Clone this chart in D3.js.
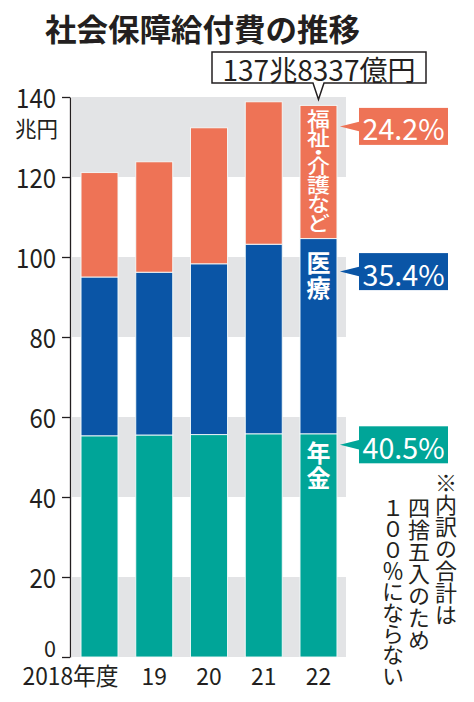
<!DOCTYPE html>
<html>
<head>
<meta charset="utf-8">
<script src="https://cdn.jsdelivr.net/npm/d3@7"></script>
<style>
  html, body { margin: 0; padding: 0; background: #fff; }
  svg { display: block; }
  text { font-family: 'Noto Sans CJK JP', 'Noto Sans', sans-serif; }
  .vert { writing-mode: vertical-rl; }
</style>
</head>
<body>
<svg id="chart" width="474" height="702"></svg>
<script>
// ---- data ----
const years = ["2018", "19", "20", "21", "22"];
const pension = [55.3, 55.5, 55.6, 55.8, 55.8];   // 年金
const medical = [39.7, 40.7, 42.7, 47.4, 48.8];   // 医療
const welfare = [26.1, 27.6, 34.0, 35.6, 33.3];   // 福祉・介護など
const seriesNames = ["年金", "医療", "福祉・介護など"];
const shares = ["40.5%", "35.4%", "24.2%"];
const yTicks = [0, 20, 40, 60, 80, 100, 120, 140];
const totalLabel = "137兆8337億円";
const title = "社会保障給付費の推移";
const unitLabel = "兆円";
const noteColumns = ["※内訳の合計は", "四捨五入のため", "１００％にならない"];

const colors = { pension: "#00a598", medical: "#0a55a6", welfare: "#ee7356" };
const ink = "#231f20";

const svg = d3.select("#chart");

const x = d3.scaleBand().domain(years).range([72, 346]).paddingInner(0.325).paddingOuter(0.165);
const y = d3.scaleLinear().domain([0, 140]).range([657, 97]);

// title
svg.append("text").attr("x", 45).attr("y", 27).attr("dominant-baseline", "central")
  .attr("font-size", 31).attr("font-weight", 700).attr("fill", ink)
  .attr("textLength", 315).attr("lengthAdjust", "spacingAndGlyphs").text(title);

// gray bands
const bands = d3.range(0, 140, 40);
svg.append("g").selectAll("rect").data(bands).join("rect")
  .attr("x", 72).attr("width", 274)
  .attr("y", d => y(d + 20)).attr("height", d => y(d) - y(d + 20))
  .attr("fill", "#e3e4e6");

// stacked bars
const rows = years.map((yr, i) => ({ yr, pension: pension[i], medical: medical[i], welfare: welfare[i] }));
const stack = d3.stack().keys(["pension", "medical", "welfare"])(rows);
svg.append("g").selectAll("g").data(stack).join("g")
  .attr("fill", d => colors[d.key])
  .selectAll("rect").data(d => d).join("rect")
  .attr("x", d => x(d.data.yr)).attr("width", x.bandwidth())
  .attr("y", d => y(d[1])).attr("height", d => y(d[0]) - y(d[1]))
  .attr("stroke", "#f4fbfb").attr("stroke-width", 0.9);

// y axis
const yAxis = svg.append("g").attr("transform", "translate(70,0)")
  .call(d3.axisLeft(y).tickValues(yTicks).tickSize(8).tickPadding(6).tickSizeOuter(0));
yAxis.select(".domain").attr("stroke", ink).attr("stroke-width", 1.3);
yAxis.selectAll(".tick line").attr("stroke", ink).attr("stroke-width", 1.3);
yAxis.selectAll(".tick text")
  .attr("font-size", d => d === 0 ? 22 : 26).attr("fill", ink)
  .attr("font-family", "'Noto Sans CJK JP', sans-serif")
  .attr("dy", d => d === 0 ? "-0.02em" : "0.42em")
  .attr("textLength", d => d === 0 ? 12 : String(d).length * 13.3)
  .attr("lengthAdjust", "spacingAndGlyphs");
// unit
svg.append("text").attr("x", 15).attr("y", 127).attr("dominant-baseline", "central")
  .attr("font-size", 22).attr("fill", ink)
  .attr("textLength", 43).attr("lengthAdjust", "spacingAndGlyphs").text(unitLabel);

// x labels
svg.append("g").selectAll("text").data(years).join("text")
  .attr("x", (d, i) => i === 0 ? x(d) + x.bandwidth() / 2 + 19 : x(d) + x.bandwidth() / 2)
  .attr("y", 685)
  .attr("text-anchor", (d, i) => i === 0 ? "end" : "middle")
  .attr("font-size", 24).attr("fill", ink)
  .attr("textLength", (d, i) => i === 0 ? 96 : d.length * 12.7)
  .attr("lengthAdjust", "spacingAndGlyphs")
  .text((d, i) => i === 0 ? d + "年度" : d);

// total callout
const last = rows[rows.length - 1];
const lastYr = years[years.length - 1];
const cx5 = x(lastYr) + x.bandwidth() / 2;
const top5 = y(last.pension + last.medical + last.welfare);
const bx0 = 212, bx1 = 426, by0 = 52, by1 = 83;
svg.append("path")
  .attr("d", `M${bx0},${by0}H${bx1}V${by1}H${cx5 + 5.5}L${cx5},${top5 - 6}L${cx5 - 5.5},${by1}H${bx0}Z`)
  .attr("fill", "#fff").attr("stroke", ink).attr("stroke-width", 1.5);
svg.append("text").attr("x", (bx0 + bx1) / 2).attr("y", (by0 + by1) / 2 + 1)
  .attr("text-anchor", "middle").attr("dominant-baseline", "central")
  .attr("font-size", 28).attr("fill", ink)
  .attr("textLength", 193).attr("lengthAdjust", "spacingAndGlyphs").text(totalLabel);

// share callouts (right side)
const xRight = x(lastYr) + x.bandwidth();
const calloutY = [y(55.8) + 11, y(55.8 + 48.8) + 33, top5 + 21];
const calloutColors = [colors.pension, colors.medical, colors.welfare];
shares.forEach((s, i) => {
  const cy = calloutY[i];
  const g = svg.append("g");
  g.append("rect").attr("x", 359).attr("y", cy - 18.5).attr("width", 89).attr("height", 37)
    .attr("fill", calloutColors[i]);
  g.append("path").attr("d", `M${xRight + 3},${cy}L360,${cy - 5}L360,${cy + 5}Z`).attr("fill", calloutColors[i]);
  g.append("text").attr("x", 403.5).attr("y", cy + 1).attr("text-anchor", "middle")
    .attr("dominant-baseline", "central").attr("font-size", 29).attr("fill", "#fff")
    .attr("textLength", 82).attr("lengthAdjust", "spacingAndGlyphs").text(s);
});

// vertical text helper (one text element per column)
function vText(str, cx, topY, size, spacing, opts) {
  const o = Object.assign({ fill: ink, weight: 400, sx: 1 }, opts || {});
  const t = svg.append("text").attr("class", "vert")
    .attr("transform", `translate(${cx},${topY}) scale(${o.sx},1)`)
    .attr("x", 0).attr("y", 0)
    .attr("font-size", size).attr("font-weight", o.weight)
    .attr("letter-spacing", spacing).attr("fill", o.fill);
  if (o.spacings) {
    Array.from(str).forEach((c, i) => {
      t.append("tspan").attr("letter-spacing", o.spacings[i]).text(c);
    });
  } else {
    t.text(str);
  }
  return t;
}

// labels inside last bar
vText(seriesNames[2], cx5, top5 + 4, 20, -1,
  { fill: "#fff", weight: 500, sx: 1.15, spacings: [-1, -6, -6, -1, -1, -1, 0] });
vText(seriesNames[1], cx5, y(55.8 + 48.8) + 12, 24, 1, { fill: "#fff", weight: 700 });
vText(seriesNames[0], cx5, y(55.8) + 7, 24, 1, { fill: "#fff", weight: 700 });

// note (vertical, right-to-left columns)
vText(noteColumns[0], 446, 472, 22, -0.1);
vText(noteColumns[1], 419, 497, 22, -0.1);
vText(noteColumns[2], 393, 497, 22, -1.1);
</script>
</body>
</html>
